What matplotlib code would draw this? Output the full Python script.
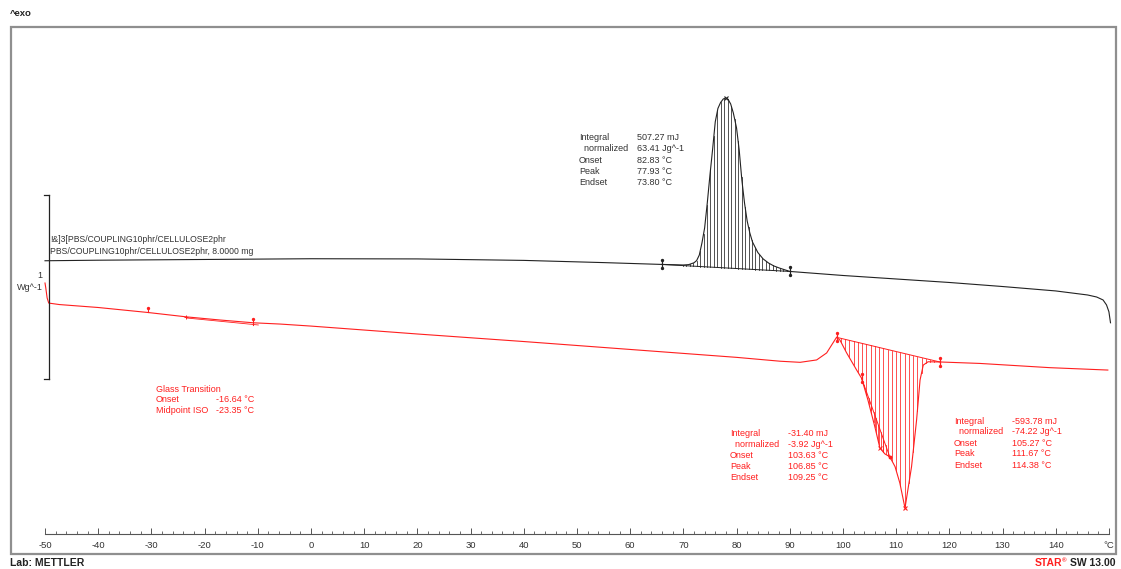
import numpy as np
import matplotlib
matplotlib.use("Agg")
import matplotlib.pyplot as plt
from matplotlib.patches import Rectangle
from matplotlib.ticker import MultipleLocator, FixedLocator, FuncFormatter

plt.rcParams['font.family'] = ['Liberation Sans', 'DejaVu Sans']

# ---- cooling scan (black): temperature in degC, heat flow in W/g ----
black_T = [-50.0, -40.0, -20.0, 0.0, 20.0, 40.0, 55.0, 66.0, 70.0, 71.0, 72.0, 72.5,
           73.0, 73.5, 74.0, 74.5, 75.0, 75.5, 76.0, 76.5, 77.0, 77.5, 77.93, 78.4,
           78.9, 79.4, 80.0, 80.5, 81.0, 81.5, 82.0, 82.5, 83.0, 84.0, 85.0, 86.0,
           87.0, 88.0, 90.0, 100.0, 110.0, 120.0, 130.0, 140.0, 146.0, 147.7, 148.9,
           149.55, 150.0, 150.3]
black_hf = [1.485, 1.488, 1.492, 1.496, 1.495, 1.487, 1.475, 1.465, 1.462, 1.464, 1.474, 1.486,
            1.516, 1.582, 1.663, 1.799, 1.950, 2.090, 2.240, 2.313, 2.345, 2.364, 2.370, 2.363,
            2.337, 2.288, 2.207, 2.087, 1.924, 1.799, 1.701, 1.636, 1.587, 1.530, 1.495, 1.473,
            1.457, 1.446, 1.427, 1.405, 1.386, 1.367, 1.345, 1.321, 1.299, 1.288, 1.272,
            1.245, 1.208, 1.148]

# ---- heating scan (red) ----
red_T = [-50.0, -49.85, -49.6, -49.3, -47.3, -40.0, -30.7, -23.4, -17.1, -10.9, -5.8, 0.0,
         20.0, 40.0, 60.0, 80.0, 88.2, 91.95, 95.06, 96.94, 98.12, 98.8, 99.44, 100.7,
         102.58, 103.52, 104.7, 106.0, 106.95, 107.9, 108.8, 109.8, 110.7, 111.67, 112.9,
         113.85, 114.5, 115.1, 116.0, 118.2, 125.75, 138.9, 149.8]
red_hf = [1.364, 1.337, 1.283, 1.255, 1.247, 1.231, 1.204, 1.180, 1.163, 1.148, 1.141, 1.130,
          1.087, 1.046, 1.003, 0.960, 0.939, 0.933, 0.946, 0.984, 1.038, 1.069, 1.054, 0.984,
          0.891, 0.846, 0.728, 0.583, 0.467, 0.435, 0.420, 0.366, 0.277, 0.141, 0.366,
          0.620, 0.837, 0.918, 0.936, 0.935, 0.927, 0.904, 0.891]

# integration limits (degC)
cryst_limits = (66.0, 90.0)
melt_limits = (98.8, 118.2)
shoulder_limits = (103.52, 108.8)
cryst_peak = 77.93
melt_peak = 111.67
shoulder_peak = 106.95
tg_points = (-30.7, -23.4, -10.9)

tick_major = list(range(-50, 141, 10))
tick_label_last = "°C"

cryst_text = [("Integral", "507.27 mJ"), ("  normalized", "63.41 Jg^-1"),
              ("Onset", "82.83 °C"), ("Peak", "77.93 °C"), ("Endset", "73.80 °C")]
shoulder_text = [("Integral", "-31.40 mJ"), ("  normalized", "-3.92 Jg^-1"),
                 ("Onset", "103.63 °C"), ("Peak", "106.85 °C"), ("Endset", "109.25 °C")]
melt_text = [("Integral", "-593.78 mJ"), ("  normalized", "-74.22 Jg^-1"),
             ("Onset", "105.27 °C"), ("Peak", "111.67 °C"), ("Endset", "114.38 °C")]
tg_text = [("Onset", "-16.64 °C"), ("Midpoint ISO", "-23.35 °C")]

W, H = 1121, 569
fig = plt.figure(figsize=(W / 100, H / 100), dpi=100)
fig.patch.set_facecolor("white")


def fp(x, y):
    return x / W, 1 - y / H


# plot area: temperature axis from -50 to 150 degC
ax = fig.add_axes([45 / W, (H - 534) / H, (1108.9 - 45) / W, 507 / H])
ax.set_xlim(-50, 150)
ax.set_ylim(0, 507 / 184)
for s in ("top", "left", "right"):
    ax.spines[s].set_visible(False)
ax.spines["bottom"].set_color("#555555")
ax.spines["bottom"].set_linewidth(0.8)
ax.set_yticks([])
ax.xaxis.set_major_locator(FixedLocator(tick_major + [150]))
ax.xaxis.set_minor_locator(MultipleLocator(2))
ax.xaxis.set_major_formatter(FuncFormatter(lambda v, p: tick_label_last if v >= 150 else f"{v:.0f}"))
ax.tick_params(axis="x", which="major", direction="in", length=4, width=0.7,
               color="#555555", labelsize=6.8, labelcolor="#333333", pad=5)
ax.tick_params(axis="x", which="minor", direction="in", length=2.5, width=0.6, color="#555555")

BLACK = "#222222"
RED = "#ff1f1f"

bT = np.array(black_T)
bH = np.array(black_hf)
rT = np.array(red_T)
rH = np.array(red_hf)

ax.plot(bT, bH, color=BLACK, lw=0.8, clip_on=False)
ax.plot(rT, rH, color=RED, lw=0.8, clip_on=False)


def hatch_area(T, Hf, t0, t1, step, color, lw=0.55):
    h0, h1 = np.interp(t0, T, Hf), np.interp(t1, T, Hf)
    ax.plot([t0, t1], [h0, h1], color=color, lw=0.7)
    for t in np.arange(t0 + step, t1, step):
        base = h0 + (h1 - h0) * (t - t0) / (t1 - t0)
        ax.plot([t, t], [base, np.interp(t, T, Hf)], color=color, lw=lw)
    return h0, h1


def limit_mark(t, v, color):
    ax.plot([t, t], [v - 0.022, v + 0.022], color=color, lw=0.9)
    ax.plot([t, t], [v - 0.022, v + 0.022], ls="none", marker="o", ms=1.4, color=color)


# crystallisation exotherm
h0, h1 = hatch_area(bT, bH, *cryst_limits, 0.65, BLACK)
limit_mark(cryst_limits[0], h0, BLACK)
limit_mark(cryst_limits[1], h1, BLACK)
ax.plot(cryst_peak, np.interp(cryst_peak, bT, bH), marker="x", ms=3.5, mew=0.8, color=BLACK)

# melting endotherm
h0, h1 = hatch_area(rT, rH, *melt_limits, 0.8, RED)
limit_mark(melt_limits[0], h0, RED)
limit_mark(melt_limits[1], h1, RED)
ax.plot(melt_peak, np.interp(melt_peak, rT, rH), marker="x", ms=3.5, mew=0.8, color=RED)

# shoulder
h0, h1 = hatch_area(rT, rH, *shoulder_limits, 0.45, RED)
limit_mark(shoulder_limits[0], h0, RED)
ax.plot(shoulder_limits[1], h1, marker="o", ms=1.8, color=RED)
ax.plot(shoulder_peak, np.interp(shoulder_peak, rT, rH), marker="x", ms=3, mew=0.7, color=RED)

# glass transition construction
g0, gm, g1 = tg_points
v0, vm, v1 = (np.interp(t, rT, rH) for t in tg_points)
ax.plot([gm, g1 + 1.0], [vm - 0.006, v1 - 0.012], color=RED, lw=0.6)
ax.plot([g0, g0], [v0, v0 + 0.022], color=RED, lw=0.8)
ax.plot(g0, v0 + 0.022, marker="o", ms=1.4, color=RED)
ax.plot(gm, vm, marker="+", ms=3.5, mew=0.7, color=RED)
ax.plot([g1, g1], [v1 - 0.012, v1 + 0.022], color=RED, lw=0.8)
ax.plot(g1, v1 + 0.022, marker="o", ms=1.4, color=RED)

# 1 W/g scale bar
sb_T = -49.25
ax.plot([sb_T, sb_T], [0.842, 1.842], color=BLACK, lw=0.9, clip_on=False)
ax.plot([sb_T - 0.95, sb_T], [1.842, 1.842], color=BLACK, lw=0.9, clip_on=False)
ax.plot([sb_T - 0.95, sb_T], [0.842, 0.842], color=BLACK, lw=0.9, clip_on=False)

# outer frame
fig.add_artist(Rectangle(fp(11, 554), 1105 / W, 527 / H, transform=fig.transFigure,
                         fill=False, ec="#8f8f8f", lw=1.6))

FS = 6.5
fig.text(*fp(10, 14), "^exo", fontsize=6.8, fontweight="bold", color="#222222", va="center")
fig.text(*fp(42, 275), "1", fontsize=FS, color="#333333", va="center", ha="right")
fig.text(*fp(43, 288), "Wg^-1", fontsize=FS, color="#333333", va="center", ha="right")
fig.text(*fp(50, 239), "!&]3[PBS/COUPLING10phr/CELLULOSE2phr", fontsize=6.2, color="#333333", va="center")
fig.text(*fp(50, 251), "PBS/COUPLING10phr/CELLULOSE2phr, 8.0000 mg", fontsize=6.2, color="#333333", va="center")


def block(rows, x0, x1, y0, dy, color):
    for i, (k, v) in enumerate(rows):
        y = y0 + i * dy
        fig.text(*fp(x0, y), k, fontsize=FS, color=color, va="center")
        fig.text(*fp(x1, y), v, fontsize=FS, color=color, va="center")


block(cryst_text, 579, 637, 137.7, 11.2, "#333333")
block(shoulder_text, 730, 788, 433.3, 11.0, RED)
block(melt_text, 954, 1012, 421, 11.0, RED)
fig.text(*fp(156, 389), "Glass Transition", fontsize=FS, color=RED, va="center")
block(tg_text, 156, 216, 400, 10.5, RED)

fig.text(*fp(10, 563), "Lab: METTLER", fontsize=7.5, fontweight="bold", color="#222222", va="center")
fig.text(*fp(1116, 563), "SW 13.00", fontsize=7.5, fontweight="bold", color="#222222", va="center", ha="right")
fig.text(*fp(1064.5, 560.5), "®", fontsize=4.5, fontweight="bold", color=RED, va="center", ha="center")
fig.text(*fp(1062.5, 563), "STAR", fontsize=7.5, fontweight="bold", color=RED, va="center", ha="right")

fig.savefig("out.png", dpi=100, facecolor="white")
